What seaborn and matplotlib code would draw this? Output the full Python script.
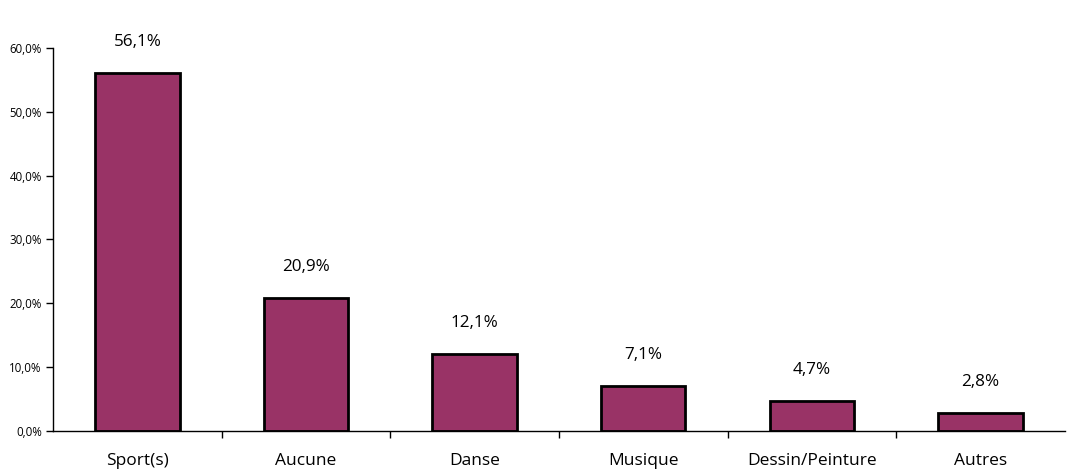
import numpy as np
import pandas as pd
import matplotlib
matplotlib.use("Agg")
import matplotlib.pyplot as plt
import seaborn as sns
from matplotlib.ticker import FuncFormatter, FixedLocator

categories = ["Sport(s)", "Aucune", "Danse", "Musique", "Dessin/Peinture", "Autres"]
values = [56.1, 20.9, 12.1, 7.1, 4.7, 2.8]

sns.set_style("white")
plt.rcParams['font.family'] = ['Open Sans', 'DejaVu Sans']
plt.rcParams['text.color'] = 'black'
plt.rcParams['xtick.color'] = 'black'
plt.rcParams['ytick.color'] = 'black'

df = pd.DataFrame({"cat": categories, "val": values})

fig = plt.figure(figsize=(10.67, 4.7), dpi=100)
ax = fig.add_axes([0.0497, 0.083, 0.9483, 0.815])
sns.barplot(data=df, x="cat", y="val", color="#993366", saturation=1,
            width=0.5, edgecolor="black", linewidth=2, ax=ax)

ax.set_ylim(0, 60)
ax.set_xlim(-0.5, len(categories) - 0.5)
ax.set_yticks(np.arange(0, 61, 10))
ax.yaxis.set_major_formatter(FuncFormatter(lambda v, p: f"{v:.1f}".replace(".", ",") + "%"))
ax.tick_params(axis="y", labelsize=8.3, length=5, width=1, direction="out", left=True, pad=3)

# x ticks between categories, labels centered
ax.tick_params(axis="x", which="major", length=0, labelsize=12.5, pad=16)
ax.xaxis.set_minor_locator(FixedLocator(np.arange(0.5, len(categories) - 0.5, 1)))
ax.tick_params(axis="x", which="minor", length=5, width=1, direction="out", bottom=True)

for s in ["top", "right"]:
    ax.spines[s].set_visible(False)
for s in ["left", "bottom"]:
    ax.spines[s].set_color("black")
    ax.spines[s].set_linewidth(1)

for i, v in enumerate(values):
    ax.text(i, v + 3.6, f"{v:.1f}".replace(".", ",") + "%", ha="center", va="bottom", fontsize=12.3)

ax.set_xlabel("")
ax.set_ylabel("")
fig.savefig("out.png", dpi=100)
